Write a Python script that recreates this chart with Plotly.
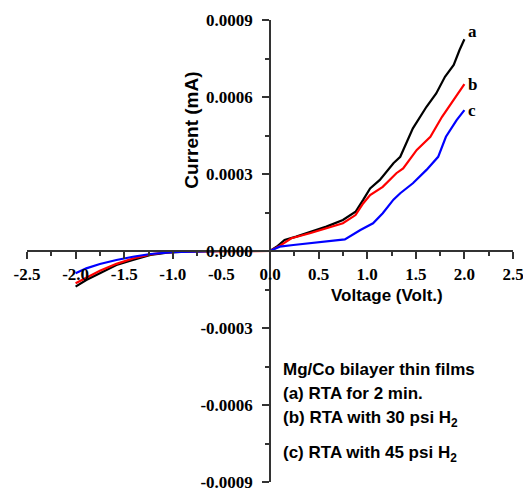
import plotly.graph_objects as go

# Data (Voltage in Volt., Current in mA)
volt_a = [-2.0, -1.89, -1.75, -1.58, -1.41, -1.23, -1.06, -0.88, -0.5, 0.0, 0.08, 0.15, 0.27, 0.41, 0.58, 0.75, 0.88, 0.96, 1.03, 1.13, 1.27, 1.34, 1.47, 1.61, 1.71, 1.80, 1.89, 1.95, 2.0]
curr_a = [-0.000139, -0.000113, -0.000087, -0.0000545, -0.000035, -0.0000156, -0.0000066, -0.000003, 0.0, 0.0, 0.00002, 0.000043, 0.000056, 0.000073, 0.000095, 0.000121, 0.000153, 0.0002, 0.000244, 0.000277, 0.000342, 0.000367, 0.000478, 0.000562, 0.000614, 0.000679, 0.000725, 0.000783, 0.000825]

volt_b = [-2.0, -1.89, -1.75, -1.58, -1.41, -1.23, -1.06, -0.88, -0.5, 0.0, 0.1, 0.22, 0.41, 0.58, 0.75, 0.88, 0.96, 1.03, 1.16, 1.30, 1.37, 1.51, 1.65, 1.77, 1.89, 2.0]
curr_b = [-0.000126, -0.000105, -0.000077, -0.000050, -0.000029, -0.000013, -0.000005, -0.000002, 0.0, 0.0, 0.00002, 0.0000495, 0.000069, 0.000088, 0.000108, 0.00014, 0.000186, 0.000218, 0.00025, 0.000303, 0.000322, 0.000394, 0.000445, 0.000523, 0.000588, 0.00065]

volt_c = [-2.0, -1.89, -1.75, -1.58, -1.41, -1.23, -1.0, -0.5, 0.0, 0.1, 0.24, 0.41, 0.58, 0.77, 0.93, 1.06, 1.16, 1.27, 1.34, 1.47, 1.61, 1.73, 1.81, 1.92, 2.0]
curr_c = [-0.000087, -0.0000675, -0.0000506, -0.000035, -0.0000225, -0.0000117, -0.000004, 0.0, 0.0, 0.0000168, 0.0000234, 0.00003, 0.0000362, 0.0000455, 0.0000818, 0.000108, 0.000147, 0.0002, 0.000225, 0.000264, 0.000316, 0.000367, 0.000445, 0.00051, 0.000549]

x_ticks = [-2.5, -2.0, -1.5, -1.0, -0.5, 0.0, 0.5, 1.0, 1.5, 2.0, 2.5]
x_ticktext = ["-2.5", "-2.0", "-1.5", "-1.0", "-0.5", "0.0", "0.5", "1.0", "1.5", "2.0", "2.5"]
y_ticks = [-0.0009, -0.0006, -0.0003, 0.0, 0.0003, 0.0006, 0.0009]
y_ticktext = ["-0.0009", "-0.0006", "-0.0003", "0.0000", "0.0003", "0.0006", "0.0009"]

curve_labels = ["a", "b", "c"]
legend_lines = [
    "Mg/Co bilayer thin films",
    "(a) RTA for 2 min.",
    "(b) RTA with 30 psi H<sub>2</sub>",
    "(c) RTA with 45 psi H<sub>2</sub>",
]

fig = go.Figure()
for v, c, col in [(volt_a, curr_a, "#000000"), (volt_b, curr_b, "#ff0000"), (volt_c, curr_c, "#0000ff")]:
    fig.add_trace(go.Scatter(x=v, y=c, mode="lines", line=dict(color=col, width=2.2),
                             showlegend=False, hoverinfo="skip"))

serif = "Liberation Serif"
sans = "Liberation Sans"

# curve end labels
for lab, v, c, dy in [(curve_labels[0], volt_a, curr_a, 0.00003), (curve_labels[1], volt_b, curr_b, 0.0), (curve_labels[2], volt_c, curr_c, 0.0)]:
    fig.add_annotation(x=v[-1], y=c[-1] + dy, text="<b>%s</b>" % lab, showarrow=False,
                       xanchor="left", xshift=2, yanchor="middle",
                       font=dict(family=serif, size=17, color="black"))

# axis titles
fig.add_annotation(x=-0.81, y=0.00047, text="<b>Current (mA)</b>", textangle=-90, showarrow=False,
                   font=dict(family=sans, size=19, color="black"))
fig.add_annotation(x=1.2, y=-0.000175, text="<b>Voltage (Volt.)</b>", showarrow=False,
                   font=dict(family=sans, size=17, color="black"))

# legend text block
legend_y = [-0.00046, -0.000557, -0.000655, -0.00079]
for t, yy in zip(legend_lines, legend_y):
    fig.add_annotation(x=0.11, y=yy, text="<b>%s</b>" % t, showarrow=False, xanchor="left",
                       yanchor="middle", font=dict(family=sans, size=17, color="black"))

axis_common = dict(showgrid=False, zeroline=False, showline=True, linecolor="#333333", linewidth=1.6,
                   ticks="outside", ticklen=7, tickwidth=1.6, tickcolor="#333333",
                   automargin=False, ticklabeloverflow="allow",
                   tickfont=dict(family=serif, size=17, color="black"))

fig.update_layout(
    width=523, height=490,
    margin=dict(l=27, r=10, t=20, b=8, autoexpand=False),
    paper_bgcolor="white", plot_bgcolor="white",
    xaxis=dict(range=[-2.5, 2.5], anchor="free", position=0.5,
               tickvals=x_ticks, ticktext=["<b>%s</b>" % s for s in x_ticktext],
               ticklabelstandoff=1,
               minor=dict(ticks="outside", ticklen=4, dtick=0.25, tickcolor="#333333", tickwidth=1.6),
               **axis_common),
    yaxis=dict(range=[-0.0009, 0.0009], anchor="free", position=0.5,
               tickvals=y_ticks, ticktext=["<b>%s</b>" % s for s in y_ticktext],
               ticklabelstandoff=6,
               minor=dict(ticks="outside", ticklen=4, dtick=0.00015, tick0=0, tickcolor="#333333", tickwidth=1.6),
               **axis_common),
)

fig.write_html("out.html", config={"displayModeBar": False},
               post_script="document.body.style.margin='0';document.body.style.overflow='hidden';")
